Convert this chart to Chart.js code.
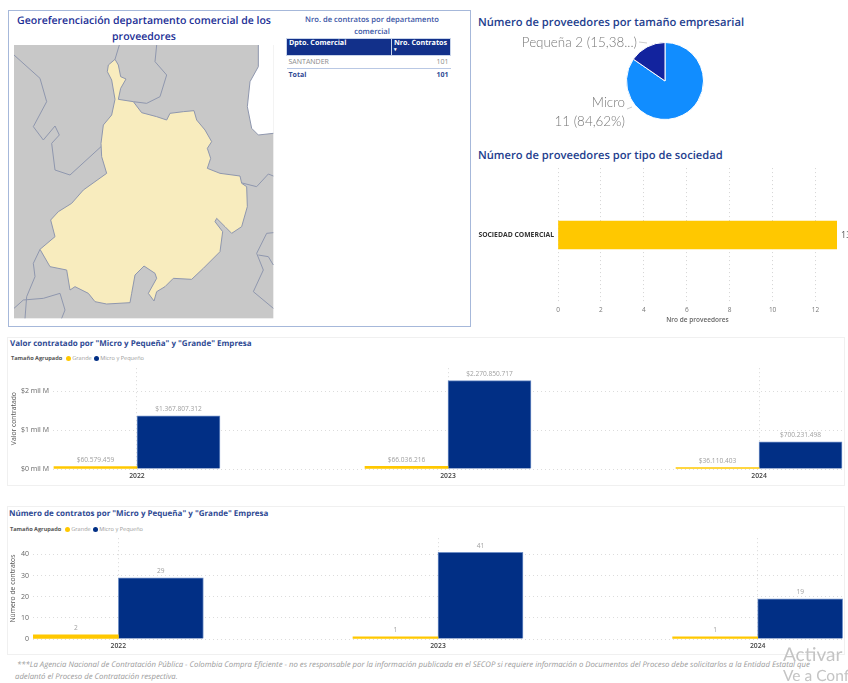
<!DOCTYPE html>
<html lang="es">
<head>
<meta charset="utf-8">
<script src="https://cdn.jsdelivr.net/npm/chart.js@4"></script>
<style>
html, body { margin: 0; padding: 0; background: #fff; }
body { position: relative; width: 848px; height: 683px; overflow: hidden; font-family: "Open Sans", sans-serif; text-rendering: geometricPrecision; }
canvas, .txt, .box, svg { position: absolute; }
.txt { white-space: nowrap; }
.box { box-sizing: border-box; }
.h1 { color: #24408e; font-size: 11.2px; font-weight: 600; }
.h2 { color: #2f4a94; font-size: 8px; font-weight: 700; }
.leg { font-size: 5.6px; color: #999; }
.leg b { color: #555; margin-right: 3px; }
.leg i { display: inline-block; width: 5px; height: 5px; border-radius: 50%; margin: 0 1px 0 1px; vertical-align: -0.5px; }
.note { font-size: 7.75px; font-style: italic; color: #9a9a9a; }
.wm { font-size: 19px; color: #c4c4c4; font-family: Lato, sans-serif; }
table { border-collapse: collapse; font-size: 7px; position: absolute; left: 286px; top: 38px; width: 165px; }
th { background: #12308a; color: #fff; text-align: left; height: 16px; padding: 0 2px; font-size: 7.2px; border: 1px solid #c8d4ea; vertical-align: top; line-height: 9px; white-space: nowrap; }
th span { display: block; font-size: 5px; line-height: 5px; }
td { color: #888; padding: 0 2px; height: 11px; }
td:first-child { padding-top: 1px; }
td:last-child { text-align: right; }
tr.tot td { color: #2f4a94; font-weight: 700; border-top: 1px solid #b9c8e4; }
</style>
</head>
<body>

<div class="box" style="left:8px;top:10px;width:463px;height:317px;border:1px solid #a6b8da"></div>
<div class="txt" style="left:12px;width:264px;top:14px;text-align:center;white-space:normal;color:#1c2f96;font-size:10.5px;font-weight:600;line-height:15.5px">Georeferenciación departamento comercial de los proveedores</div>

<svg width="480" height="335" viewBox="0 0 1440 1005" style="left:0;top:0;filter:blur(0.5px)">
  <rect x="42" y="135" width="778" height="820" fill="#c8c8c8"/>
  <path d="M775 135 L775 200 L750 245 L742 320 L755 385 L775 405 L820 400 L820 135 Z" fill="#fff"/>
  <g fill="none" stroke="#8f97ae" stroke-width="3" stroke-linejoin="round">
    <path d="M42 165 L120 235 L140 305 L100 380 L130 420 L165 378 L178 405 L155 430 L165 510 L210 525 L303 440"/>
    <path d="M358 135 L345 178"/>
    <path d="M470 135 L465 185 L500 225 L480 290 L440 310 L400 305"/>
    <path d="M775 135 L775 200 L750 245 L742 320 L755 385 L775 405 L820 400"/>
    <path d="M722 548 L770 560 L805 522 L820 528"/>
    <path d="M120 748 L100 790 L105 830 L80 890 L75 955"/>
    <path d="M42 925 L70 900 L130 895 L180 880 L195 930 L185 955"/>
    <path d="M820 698 L800 700 L770 760 L790 810 L760 875 L820 925"/>
    <path d="M775 765 L805 770 L820 795"/>
  </g>
  <path fill="#f8ecbe" stroke="#8f97ae" stroke-width="3" stroke-linejoin="round" d="M345 178 L355 195 L362 230 L378 237 L362 265 L355 298 L400 305 L425 338 L470 350 L500 360 L510 340 L550 335 L582 332 L590 360 L615 390 L635 425 L622 445 L632 475 L622 505 L660 520 L720 528 L725 550 L740 560 L742 620 L725 680 L695 700 L675 680 L650 655 L645 665 L668 695 L660 755 L610 805 L575 838 L520 835 L495 860 L470 875 L462 903 L445 880 L470 835 L465 820 L432 798 L405 825 L395 880 L390 908 L320 912 L285 905 L265 880 L225 860 L210 870 L200 810 L150 800 L120 748 L165 710 L152 660 L175 635 L215 610 L250 570 L320 520 L305 470 L303 430 L310 375 L335 345 L345 298 L335 240 L322 215 L325 195 Z"/>
</svg>

<div class="txt" style="left:290px;width:164px;top:14px;text-align:center;white-space:normal;color:#3a55a5;font-size:7.6px;font-weight:600;line-height:12px">Nro. de contratos por departamento comercial</div>
<table id="tbl"></table>

<div class="txt h1" style="left:478px;top:15px">Número de proveedores por tamaño empresarial</div>
<canvas id="pie" width="400" height="100" style="left:465px;top:31px"></canvas>

<div class="txt h1" style="left:478px;top:148px">Número de proveedores por tipo de sociedad</div>
<canvas id="soc" width="378" height="164" style="left:470px;top:160px"></canvas>

<div class="box" style="left:7px;top:337px;width:838px;height:149px;border:1px solid #f0f0f0"></div>
<div class="txt h2" style="left:10px;top:338px">Valor contratado por "Micro y Pequeña" y "Grande" Empresa</div>
<div class="txt leg" style="left:11px;top:354px"><b>Tamaño Agrupado</b><i style="background:#ffc800"></i>Grande <i style="background:#012f85"></i>Micro y Pequeño</div>
<canvas id="valor" width="848" height="125" style="left:0;top:360px"></canvas>

<div class="box" style="left:7px;top:506px;width:838px;height:149px;border:1px solid #f0f0f0"></div>
<div class="txt h2" style="left:9px;top:508px">Número de contratos por "Micro y Pequeña" y "Grande" Empresa</div>
<div class="txt leg" style="left:10px;top:525px"><b>Tamaño Agrupado</b><i style="background:#ffc800"></i>Grande <i style="background:#012f85"></i>Micro y Pequeño</div>
<canvas id="num" width="848" height="125" style="left:0;top:530px"></canvas>

<div class="txt note" style="left:17px;top:660px">***La Agencia Nacional de Contratación Pública - Colombia Compra Eficiente - no es responsable por la información publicada en el SECOP si requiere información o Documentos del Proceso debe solicitarlos a la Entidad Estatal que</div>
<div class="txt note" style="left:15px;top:672px">adelantó el Proceso de Contratación respectiva.</div>
<div class="txt wm" style="left:783px;top:643px">Activar</div>
<div class="txt wm" style="left:783px;top:667px;font-size:15.5px">Ve a Configuración</div>

<script>
const years = [2022, 2023, 2024];
const grupos = ["Grande", "Micro y Pequeño"];
const valorGrande = [60579459, 66036216, 36110403];
const valorMicro = [1367807312, 2270850717, 700231498];
const valorTicks = [0, 1000000000, 2000000000];
const numGrande = [2, 1, 1];
const numMicro = [29, 41, 19];
const numTicks = [0, 10, 20, 30, 40];

const tamanos = ["Micro", "Pequeña"];
const tamanoCant = [11, 2];
const sociedades = ["SOCIEDAD COMERCIAL"];
const sociedadCant = [13];

const deptos = ["SANTANDER"];
const deptoContratos = [101];
const totalContratos = 101;

const AMARILLO = "#ffc800";
const AZUL = "#012f85";
const FONT = '"Open Sans", sans-serif';

// tabla
let tbl = document.getElementById("tbl");
let rows = "<tr><th style='width:100px'>Dpto. Comercial</th><th>Nro. Contratos<span>&#9662;</span></th></tr>";
deptos.forEach((d, i) => {
	rows += `<tr><td>${d}</td><td>${deptoContratos[i]}</td></tr>`;
});
rows += `<tr class="tot"><td>Total</td><td>${totalContratos}</td></tr>`;
tbl.innerHTML = rows;

// etiquetas encima de las barras
const barLabels = {
	id: "barLabels",
	afterDatasetsDraw(chart, args, opts) {
		let ctx = chart.ctx;
		let horiz = chart.options.indexAxis === "y";
		ctx.save();
		ctx.font = `${opts.size}px ${FONT}`;
		ctx.fillStyle = opts.color;
		chart.data.datasets.forEach((ds, i) => {
			chart.getDatasetMeta(i).data.forEach((bar, j) => {
				let val = horiz ? ds.data[j].x : ds.data[j].y;
				let txt = opts.format(val);
				if (horiz) {
					ctx.textAlign = "left";
					ctx.textBaseline = "middle";
					ctx.fillText(txt, bar.x + 4, bar.y);
				} else {
					ctx.textAlign = "center";
					ctx.textBaseline = "bottom";
					ctx.fillText(txt, bar.x, bar.y - 3);
				}
			});
		});
		ctx.restore();
	},
};

// etiquetas del pie con linea guia
const pieLabels = {
	id: "pieLabels",
	afterDraw(chart) {
		let ctx = chart.ctx;
		ctx.save();
		ctx.font = "300 13.4px Lato, sans-serif";
		ctx.fillStyle = "#777";
		ctx.textAlign = "right";
		ctx.textBaseline = "middle";
		ctx.fillText("Pequeña 2 (15,38...)", 172, 12);
		ctx.fillText("Micro", 160, 72);
		ctx.fillText("11 (84,62%)", 160, 91);
		ctx.strokeStyle = "#ccc";
		ctx.beginPath();
		ctx.moveTo(174, 11);
		ctx.lineTo(182, 12);
		ctx.moveTo(162, 78);
		ctx.lineTo(167, 76);
		ctx.stroke();
		ctx.restore();
	},
};

new Chart(document.getElementById("pie"), {
	type: "pie",
	data: {
		labels: tamanos,
		datasets: [{ data: tamanoCant, backgroundColor: ["#118dff", "#12239e"], borderColor: "#fff", borderWidth: 1 }],
	},
	options: {
		responsive: false,
		animation: false,
		layout: { padding: 11 },
		plugins: { legend: { display: false }, tooltip: { enabled: false } },
	},
	plugins: [pieLabels],
});

new Chart(document.getElementById("soc"), {
	type: "bar",
	data: {
		labels: sociedades,
		datasets: [{
			data: sociedadCant.map((v, i) => ({ x: v, y: i })),
			backgroundColor: AMARILLO,
			barThickness: 28,
		}],
	},
	options: {
		indexAxis: "y",
		responsive: false,
		animation: false,
		parsing: false,
		layout: { padding: { top: 8, right: 11 } },
		plugins: {
			legend: { display: false },
			tooltip: { enabled: false },
			barLabels: { size: 9, color: "#555", format: (v) => String(v) },
		},
		scales: {
			x: {
				min: 0,
				max: 13,
				afterFit: (s) => { s.height = 22; },
				grid: { color: "#d4d4d4", drawTicks: false },
				border: { display: false, dash: [1, 3] },
				ticks: { stepSize: 2, includeBounds: false, padding: 4, color: "#777", font: { size: 6.5, family: FONT } },
				title: { display: true, text: "Nro de proveedores", color: "#666", padding: 0, font: { size: 6.5, weight: "600", family: FONT } },
			},
			y: {
				afterFit: (s) => { s.width = 88; },
				grid: { display: false, drawTicks: false },
				border: { display: false },
				ticks: { padding: 4, color: "#333", font: { size: 6.8, weight: "700", family: FONT } },
			},
		},
	},
	plugins: [barLabels],
});

function columnas(id, serieA, serieB, cfg) {
	return new Chart(document.getElementById(id), {
		type: "bar",
		data: {
			datasets: [
				{ label: grupos[0], data: years.map((y, i) => ({ x: y, y: serieA[i] })), backgroundColor: AMARILLO, barThickness: cfg.barW },
				{ label: grupos[1], data: years.map((y, i) => ({ x: y, y: serieB[i] })), backgroundColor: AZUL, borderColor: "#6f8fc6", borderWidth: 1, barThickness: cfg.barW },
			],
		},
		options: {
			responsive: false,
			animation: false,
			parsing: false,
			layout: { padding: { top: 8, right: 5 } },
			plugins: {
				legend: { display: false },
				tooltip: { enabled: false },
				barLabels: { size: 6.6, color: "#a0a0a0", format: cfg.fmt },
			},
			scales: {
				x: {
					type: "linear",
					offset: false,
					min: cfg.xMin,
					max: cfg.xMax,
					afterFit: (s) => { s.height = 16; },
					grid: { offset: false, color: "#d8d8d8", drawTicks: false },
					border: { display: false, dash: [1, 3] },
					ticks: {
						stepSize: 1,
						includeBounds: false,
						padding: 3,
						maxRotation: 0,
						color: "#444",
						font: { size: 6.8, weight: "600", family: FONT },
						callback: (v) => String(v),
					},
				},
				y: {
					min: 0,
					max: cfg.yMax,
					afterFit: (s) => { s.width = cfg.left; },
					afterBuildTicks: (s) => { s.ticks = cfg.ticks.map((v) => ({ value: v })); },
					grid: { color: "#dcdcdc", drawTicks: false },
					border: { display: false, dash: [1, 3] },
					ticks: {
						padding: 4,
						color: "#666",
						font: { size: 7, family: FONT },
						callback: cfg.tick,
					},
					title: { display: true, text: cfg.yTitle, color: "#555", padding: { top: cfg.titleTop, bottom: 0 }, font: { size: 6.8, family: FONT } },
				},
			},
		},
		plugins: [barLabels],
	});
}

const pesos = (v) => "$" + Math.round(v).toString().replace(/\B(?=(\d{3})+$)/g, ".");

columnas("valor", valorGrande, valorMicro, {
	barW: 83,
	xMin: 2021.73,
	xMax: 2024.27,
	yMax: 2590000000,
	ticks: valorTicks,
	left: 53,
	titleTop: 10,
	yTitle: "Valor contratado",
	fmt: pesos,
	tick: (v) => "$" + v / 1000000000 + " mil M",
});

columnas("num", numGrande, numMicro, {
	barW: 85,
	xMin: 2021.733,
	xMax: 2024.267,
	yMax: 47.7,
	ticks: numTicks,
	left: 33,
	titleTop: 9,
	yTitle: "Número de contratos",
	fmt: (v) => String(v),
	tick: (v) => String(v),
});
</script>
</body>
</html>
